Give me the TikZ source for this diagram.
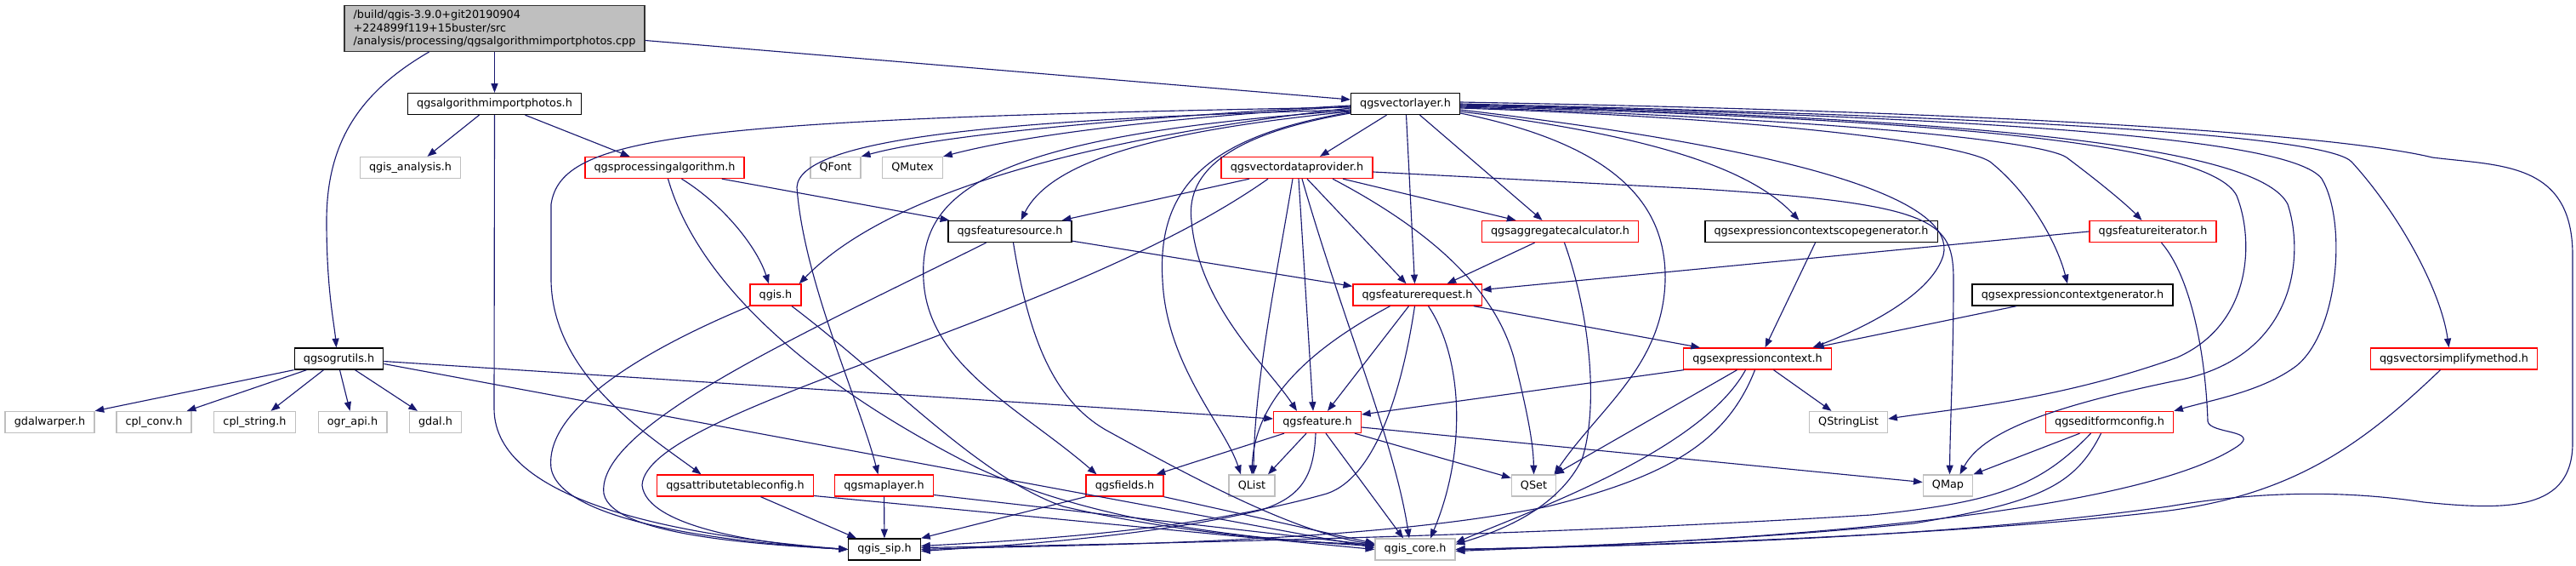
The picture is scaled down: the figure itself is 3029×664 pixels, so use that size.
\documentclass[tikz,border=0pt]{standalone}
\usepackage{fontspec}
\setmainfont{DejaVu Sans}
\usetikzlibrary{arrows.meta,calc}
\definecolor{edgeblue}{RGB}{25,25,112}
\definecolor{extgray}{RGB}{191,191,191}

\begin{document}
\begin{tikzpicture}[
  x=0.75pt,y=-0.75pt,
  box/.style={rectangle,line width=1pt,fill=white,minimum height=18.75pt,inner xsep=8pt,inner ysep=2pt,font=\fontsize{9.6}{11.5}\selectfont},
  hdr/.style={box,draw=black},
  trunc/.style={box,draw=red},
  ext/.style={box,draw=extgray},
  mainfile/.style={box,draw=black!80,fill=extgray,align=left,inner ysep=4pt},
  line/.style={-{Triangle[length=8pt,width=6pt]},line width=0.85pt,draw=edgeblue}
]
  \useasboundingbox (0,0) rectangle (3029,664);

  % files
  \node[mainfile] (root) at (581.5,33.5) {/build/qgis-3.9.0+git20190904\\+224899f119+15buster/src\\/analysis/processing/qgsalgorithmimportphotos.cpp};
  \node[hdr] (importphotos) at (581.5,122) {qgsalgorithmimportphotos.h};
  \node[hdr] (vlayer) at (1652.5,122) {qgsvectorlayer.h};
  \node[ext] (analysis) at (482.5,197) {qgis\_analysis.h};
  \node[trunc] (procalg) at (781.5,197) {qgsprocessingalgorithm.h};
  \node[ext] (qfont) at (982.5,197) {QFont};
  \node[ext] (qmutex) at (1073,197) {QMutex};
  \node[trunc] (vdp) at (1525,197) {qgsvectordataprovider.h};
  \node[hdr] (fsource) at (1187.5,272) {qgsfeaturesource.h};
  \node[trunc] (aggcalc) at (1834.5,272) {qgsaggregatecalculator.h};
  \node[hdr] (scopegen) at (2141.5,272) {qgsexpressioncontextscopegenerator.h};
  \node[trunc] (fiter) at (2531.5,272) {qgsfeatureiterator.h};
  \node[trunc] (qgis) at (912,346.5) {qgis.h};
  \node[trunc] (freq) at (1666.5,346.5) {qgsfeaturerequest.h};
  \node[hdr] (ctxgen) at (2437,346.5) {qgsexpressioncontextgenerator.h};
  \node[hdr] (ogrutils) at (398.5,421.5) {qgsogrutils.h};
  \node[trunc] (expctx) at (2066.5,421.5) {qgsexpressioncontext.h};
  \node[trunc] (simplify) at (2885.5,421.5) {qgsvectorsimplifymethod.h};
  \node[ext] (gdalwarper) at (58.5,496) {gdalwarper.h};
  \node[ext] (cplconv) at (181,496) {cpl\_conv.h};
  \node[ext] (cplstring) at (299.5,496) {cpl\_string.h};
  \node[ext] (ograpi) at (414.5,496) {ogr\_api.h};
  \node[ext] (gdal) at (512,496) {gdal.h};
  \node[trunc] (feature) at (1549,496) {qgsfeature.h};
  \node[ext] (qstrlist) at (2173.5,496) {QStringList};
  \node[trunc] (editform) at (2480.5,496) {qgseditformconfig.h};
  \node[trunc] (attrtable) at (864.5,570.5) {qgsattributetableconfig.h};
  \node[trunc] (maplayer) at (1039.5,570.5) {qgsmaplayer.h};
  \node[trunc] (fields) at (1322.5,570.5) {qgsfields.h};
  \node[ext] (qlist) at (1472,570.5) {QList};
  \node[ext] (qset) at (1803.5,570.5) {QSet};
  \node[ext] (qmap) at (2290.5,570.5) {QMap};
  \node[hdr] (qgissip) at (1040,645.5) {qgis\_sip.h};
  \node[ext] (qgiscore) at (1664,645.5) {qgis\_core.h};

  % root file
  \draw[line] (root) -- (importphotos);
  \draw[line] ($(root.east)+(0,14)$) -- ($(vlayer.west)+(0,-5)$);
  \draw[line] ($(root.south)+(-77,0)$) .. controls (420,110) and (384,170) .. (384,260) .. controls (384,340) and (393,380) .. ($(ogrutils.north)+(-3,0)$);

  % qgsalgorithmimportphotos.h
  \draw[line] ($(importphotos.south)+(-18,0)$) -- ($(analysis.north)+(20,0)$);
  \draw[line] ($(importphotos.south)+(36,0)$) -- ($(procalg.north)+(-41,0)$);
  \draw[line] (importphotos.south) -- (581,480) .. controls (581,590) and (800,630) .. (qgissip.west);

  % qgsprocessingalgorithm.h
  \draw[line] ($(procalg.south east)+(-27,0)$) -- ($(fsource.north west)+(2,0)$);
  \draw[line] ($(procalg.south)+(20,0)$) .. controls (850,240) and (890,290) .. ($(qgis.north)+(-8,0)$);
  \draw[line] ($(procalg.south)+(4,0)$) .. controls (820,330) and (950,450) .. (1150,550) .. controls (1300,620) and (1500,635) .. ($(qgiscore.west)+(0,-4)$);

  % qgsvectorlayer.h, left side
  \draw[line] ($(vlayer.west)+(0,2)$) .. controls (1300,140) and (1100,160) .. (qfont.north east);
  \draw[line] ($(vlayer.west)+(0,3)$) .. controls (1350,140) and (1200,160) .. (qmutex.north east);
  \draw[line] ($(vlayer.west)+(0,5)$) .. controls (1300,160) and (1050,220) .. ($(qgis.north east)+(-3,0)$);
  \draw[line] ($(vlayer.west)+(0,9)$) .. controls (1400,150) and (1240,180) .. ($(fsource.north)+(13,0)$);
  \draw[line] ($(vlayer.west)+(0,7)$) .. controls (1200,140) and (940,160) .. (937,220) .. controls (945,330) and (1010,470) .. ($(maplayer.north)+(-7,0)$);
  \draw[line] ($(vlayer.west)+(0,4)$) .. controls (800,140) and (660,160) .. (648,240) -- (648,330) .. controls (650,440) and (760,510) .. ($(attrtable.north)+(-40,0)$);
  \draw[line] ($(vlayer.west)+(0,8)$) .. controls (1150,160) and (1080,230) .. (1086,330) .. controls (1092,430) and (1200,480) .. ($(fields.north)+(-33,0)$);
  \draw[line] ($(vlayer.west)+(0,10)$) .. controls (1420,160) and (1360,220) .. (1367,330) .. controls (1372,430) and (1440,500) .. ($(qlist.north)+(-13,0)$);
  \draw[line] ($(vlayer.west)+(0,11)$) .. controls (1430,160) and (1395,210) .. (1401,260) .. controls (1410,360) and (1490,430) .. ($(feature.north)+(-24,0)$);
  % qgsvectorlayer.h, below
  \draw[line] ($(vlayer.south)+(-22,0)$) -- ($(vdp.north)+(27,0)$);
  \draw[line] ($(vlayer.south)+(1,0)$) -- ($(freq.north)+(-3,0)$);
  \draw[line] ($(vlayer.south)+(17,0)$) -- ($(aggcalc.north)+(-21,0)$);
  % qgsvectorlayer.h, right side
  \draw[line] ($(vlayer.east)+(0,11)$) .. controls (1900,170) and (1960,240) .. (1958,330) .. controls (1955,430) and (1880,480) .. ($(qset.north)+(24,0)$);
  \draw[line] ($(vlayer.east)+(0,9)$) .. controls (1950,160) and (2060,200) .. ($(scopegen.north)+(-26,0)$);
  \draw[line] ($(vlayer.east)+(0,7)$) .. controls (2150,180) and (2300,240) .. (2285,300) .. controls (2270,350) and (2180,390) .. ($(expctx.north)+(65,0)$);
  \draw[line] ($(vlayer.east)+(0,5)$) .. controls (2100,140) and (2310,170) .. (2340,190) .. controls (2390,230) and (2420,290) .. ($(ctxgen.north)+(-6,0)$);
  \draw[line] ($(vlayer.east)+(0,4)$) .. controls (2150,140) and (2400,165) .. (2430,185) .. controls (2470,215) and (2500,240) .. ($(fiter.north)+(-13,0)$);
  \draw[line] ($(vlayer.east)+(0,3)$) .. controls (2300,140) and (2600,170) .. (2630,230) .. controls (2650,280) and (2650,380) .. (2560,420) .. controls (2420,470) and (2300,480) .. ($(qstrlist.east)+(0,-4)$);
  \draw[line] ($(vlayer.east)+(0,2)$) .. controls (2400,140) and (2660,180) .. (2690,240) .. controls (2710,300) and (2700,420) .. (2560,447) .. controls (2400,480) and (2330,510) .. ($(qmap.north)+(14,0)$);
  \draw[line] ($(vlayer.east)+(0,1)$) .. controls (2450,140) and (2700,170) .. (2730,210) .. controls (2760,260) and (2750,390) .. (2700,430) .. controls (2660,460) and (2600,470) .. (editform.north east);
  \draw[line] (vlayer.east) .. controls (2500,140) and (2740,165) .. (2765,190) .. controls (2820,250) and (2870,340) .. ($(simplify.north)+(-6,0)$);
  \draw[line] ($(vlayer.east)+(0,-2)$) .. controls (2550,135) and (2800,170) .. (2860,185) .. controls (2940,195) and (3025,190) .. (3025,300) -- (3025,520) .. controls (3025,600) and (2950,600) .. (2850,590) .. controls (2750,575) and (2650,578) .. (2550,595) .. controls (2300,630) and (2000,640) .. (qgiscore.east);

  % qgsvectordataprovider.h
  \draw[line] ($(vdp.south)+(-56,0)$) -- ($(fsource.north east)+(-12,0)$);
  \draw[line] ($(vdp.south)+(-34,0)$) .. controls (1250,380) and (760,480) .. (755,570) .. controls (760,620) and (900,640) .. (qgissip.west);
  \draw[line] ($(vdp.south)+(-5,0)$) .. controls (1500,330) and (1475,450) .. ($(qlist.north)+(2,0)$);
  \draw[line] ($(vdp.south)+(2,0)$) -- ($(feature.north)+(-5,0)$);
  \draw[line] ($(vdp.south)+(6,0)$) .. controls (1580,380) and (1640,520) .. ($(qgiscore.north)+(-7,0)$);
  \draw[line] ($(vdp.south)+(12,0)$) -- ($(freq.north)+(-13,0)$);
  \draw[line] ($(vdp.south)+(42,0)$) .. controls (1700,280) and (1760,350) .. (1780,420) .. controls (1795,480) and (1803,520) .. (qset.north);
  \draw[line] ($(vdp.south)+(54,0)$) -- ($(aggcalc.north)+(-52,0)$);
  \draw[line] ($(vdp.east)+(0,5)$) -- (2000,222) .. controls (2280,240) and (2297,260) .. (2297,330) .. controls (2297,420) and (2293,500) .. ($(qmap.north)+(2,0)$);

  % qgsfeaturesource.h
  \draw[line] ($(fsource.south east)+(0,-2)$) -- ($(freq.north west)+(0,3)$);
  \draw[line] ($(fsource.south)+(-28,0)$) .. controls (950,390) and (700,500) .. (710,580) .. controls (720,630) and (900,640) .. (qgissip.west);
  \draw[line] ($(fsource.south)+(4,0)$) .. controls (1210,400) and (1240,470) .. (1300,505) .. controls (1400,560) and (1520,625) .. ($(qgiscore.west)+(0,-6)$);

  % qgsaggregatecalculator.h
  \draw[line] ($(aggcalc.south)+(-30,0)$) -- ($(freq.north)+(35,0)$);
  \draw[line] ($(aggcalc.south)+(5,0)$) .. controls (1870,370) and (1880,480) .. (1860,540) .. controls (1830,600) and (1760,625) .. ($(qgiscore.east)+(0,-6)$);

  % qgsfeatureiterator.h
  \draw[line] (fiter.west) -- ($(freq.east)+(0,-6)$);
  \draw[line] ($(fiter.south)+(10,0)$) .. controls (2580,330) and (2594,430) .. (2596,495) .. controls (2598,510) and (2660,505) .. (2630,525) .. controls (2500,610) and (2000,640) .. (qgiscore.east);

  % generators
  \draw[line] ($(scopegen.south)+(-7,0)$) -- ($(expctx.north)+(9,0)$);
  \draw[line] ($(ctxgen.south)+(-66,0)$) -- ($(expctx.north east)+(-20,0)$);

  % qgsfeaturerequest.h
  \draw[line] ($(freq.south)+(-10,0)$) -- ($(feature.north)+(12,0)$);
  \draw[line] ($(freq.south)+(-32,0)$) .. controls (1540,410) and (1475,470) .. (qlist.north);
  \draw[line] ($(freq.south)+(-3,0)$) .. controls (1650,450) and (1620,560) .. (1560,580) .. controls (1400,625) and (1200,635) .. ($(qgissip.east)+(0,-4)$);
  \draw[line] ($(freq.south)+(13,0)$) .. controls (1720,420) and (1725,530) .. ($(qgiscore.north)+(18,0)$);
  \draw[line] ($(freq.south east)+(-10,0)$) -- ($(expctx.north west)+(20,0)$);

  % qgsexpressioncontext.h
  \draw[line] ($(expctx.south west)+(1,0)$) -- ($(feature.east)+(0,-9)$);
  \draw[line] ($(expctx.south)+(19,0)$) -- ($(qstrlist.north)+(-20,0)$);
  \draw[line] ($(expctx.south)+(-24,0)$) -- ($(qset.north east)+(-2,0)$);
  \draw[line] ($(expctx.south)+(-14,0)$) .. controls (2000,530) and (1800,600) .. ($(qgiscore.east)+(0,-8)$);
  \draw[line] ($(expctx.south)+(-3,0)$) .. controls (2030,520) and (1960,560) .. (1820,595) .. controls (1600,640) and (1250,640) .. (qgissip.east);

  % qgsfeature.h
  \draw[line] ($(feature.south)+(-39,0)$) -- ($(fields.north east)+(-9,0)$);
  \draw[line] ($(feature.south)+(-13,0)$) -- ($(qlist.north)+(19,0)$);
  \draw[line] ($(feature.south)+(-2,0)$) .. controls (1545,560) and (1530,585) .. (1480,600) .. controls (1350,630) and (1200,640) .. ($(qgissip.east)+(0,2)$);
  \draw[line] ($(feature.south)+(10,0)$) -- ($(qgiscore.north)+(-14,0)$);
  \draw[line] ($(feature.south east)+(-8,0)$) -- ($(qset.west)+(0,-9)$);
  \draw[line] ($(feature.east)+(0,6)$) -- ($(qmap.west)+(0,-4)$);

  % qgsogrutils.h
  \draw[line] (ogrutils.south west) -- (gdalwarper.north east);
  \draw[line] ($(ogrutils.south west)+(15,0)$) -- ($(cplconv.north east)+(-6,0)$);
  \draw[line] ($(ogrutils.south)+(-18,0)$) -- ($(cplstring.north)+(19,0)$);
  \draw[line] ($(ogrutils.south)+(1,0)$) -- ($(ograpi.north)+(-3,0)$);
  \draw[line] ($(ogrutils.south)+(19,0)$) -- ($(gdal.north)+(-21,0)$);
  \draw[line] ($(ogrutils.east)+(0,3)$) -- ($(feature.west)+(0,-4)$);
  \draw[line] ($(ogrutils.east)+(0,6)$) -- ($(qgiscore.west)+(0,-2)$);

  % qgis.h
  \draw[line] (qgis.south west) .. controls (760,410) and (640,480) .. (648,550) .. controls (660,620) and (900,640) .. (qgissip.west);
  \draw[line] ($(qgis.south)+(19,0)$) .. controls (1050,450) and (1150,560) .. (1250,595) .. controls (1400,630) and (1550,638) .. ($(qgiscore.west)+(0,-6)$);

  % lower headers
  \draw[line] (fields.south west) -- (qgissip.north east);
  \draw[line] (fields.south east) -- ($(qgiscore.west)+(0,-7)$);
  \draw[line] (maplayer) -- (qgissip);
  \draw[line] ($(maplayer.east)+(0,11)$) -- ($(qgiscore.west)+(0,-5)$);
  \draw[line] ($(attrtable.south)+(30,0)$) -- ($(qgissip.north west)+(10,0)$);
  \draw[line] ($(attrtable.east)+(0,12)$) -- (qgiscore.west);

  % qgseditformconfig.h
  \draw[line] ($(editform.south)+(-35,0)$) -- (qmap.north east);
  \draw[line] ($(editform.south)+(-22,0)$) .. controls (2400,570) and (2350,590) .. (2200,605) .. controls (1800,630) and (1300,640) .. ($(qgissip.east)+(0,-2)$);
  \draw[line] ($(editform.south)+(-10,0)$) .. controls (2440,570) and (2400,590) .. (2250,615) .. controls (2050,635) and (1850,642) .. ($(qgiscore.east)+(0,2)$);

  % qgsvectorsimplifymethod.h
  \draw[line] ($(simplify.south)+(-16,0)$) .. controls (2780,520) and (2700,580) .. (2550,600) .. controls (2300,630) and (1900,642) .. (qgiscore.east);
\end{tikzpicture}
\end{document}
